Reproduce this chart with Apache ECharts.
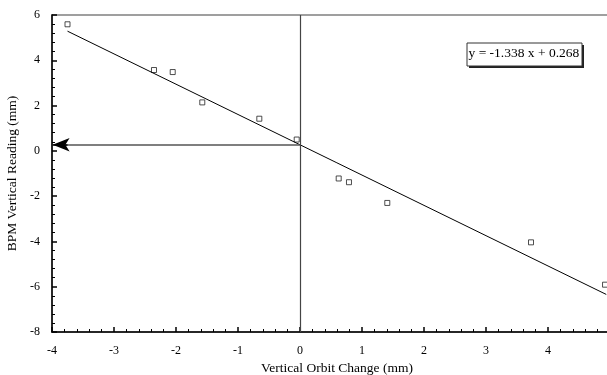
<!DOCTYPE html>
<html>
<head>
<meta charset="utf-8">
<script src="https://cdn.jsdelivr.net/npm/echarts@6/dist/echarts.min.js"></script>
<style>html,body{margin:0;padding:0;background:#fff}#c{width:607px;height:375px}</style>
</head>
<body>
<div id="c"></div>
<script>
var orbitChange = [-3.75, -2.355, -2.053, -1.576, -0.656, -0.053, 0.624, 0.79, 1.408, 3.726, 4.92];
var bpmReading  = [5.59, 3.57, 3.48, 2.14, 1.42, 0.50, -1.22, -1.385, -2.30, -4.04, -5.91];
var slope = -1.338;
var intercept = 0.268;
var fitRange = [-3.75, 4.94];
var equationText = 'y = -1.338 x + 0.268';
var xName = 'Vertical Orbit Change (mm)';
var yName = 'BPM Vertical Reading (mm)';

var points = orbitChange.map(function (x, i) { return [x, bpmReading[i]]; });
var fitLine = fitRange.map(function (x) { return [x, slope * x + intercept]; });
var font = '"Liberation Serif", "Times New Roman", serif';

var chart = echarts.init(document.getElementById('c'));
chart.setOption({
  animation: false,
  backgroundColor: '#fff',
  grid: { left: 52, right: -3, top: 15, bottom: 43, show: true, borderColor: '#808080', borderWidth: 1.5, outerBoundsMode: 'none', containLabel: false },
  xAxis: {
    type: 'value', min: -4, max: 5, interval: 1,
    name: xName, nameLocation: 'middle', nameGap: 29,
    nameTextStyle: { fontFamily: font, fontSize: 13.5, color: '#000', padding: [0, 0, 0, 12] },
    axisLine: { onZero: false, lineStyle: { color: '#000', width: 1.5 } },
    axisTick: { inside: true, length: 5, lineStyle: { color: '#000', width: 1.5 } },
    minorTick: { show: true, splitNumber: 5, length: 3, lineStyle: { color: '#000', width: 1 } },
    axisLabel: { fontFamily: font, fontSize: 12, color: '#000', margin: 13 },
    splitLine: { show: false }
  },
  yAxis: {
    type: 'value', min: -8, max: 6, interval: 2,
    name: yName, nameLocation: 'middle', nameGap: 31,
    nameTextStyle: { fontFamily: font, fontSize: 13.5, color: '#000' },
    axisLine: { onZero: false, lineStyle: { color: '#000', width: 1.5 } },
    axisTick: { inside: true, length: 5, lineStyle: { color: '#000', width: 1.5 } },
    minorTick: { show: true, splitNumber: 5, length: 3, lineStyle: { color: '#000', width: 1 } },
    axisLabel: { fontFamily: font, fontSize: 12, color: '#000', margin: 12 },
    splitLine: { show: false }
  },
  series: [
    {
      type: 'line', data: fitLine, symbol: 'none', silent: true,
      lineStyle: { color: '#000', width: 1 },
      markLine: {
        silent: true, animation: false,
        label: { show: false },
        symbol: ['none', 'none'],
        lineStyle: { color: '#444', width: 1.2, type: 'solid' },
        data: [
          [{ coord: [0, 6] }, { coord: [0, -8] }]
        ]
      }
    },
    {
      type: 'line', data: [], silent: true,
      markLine: {
        silent: true, animation: false,
        label: { show: false },
        symbol: ['none', 'none'],
        lineStyle: { color: '#555', width: 1.5, type: 'solid' },
        data: [
          [{ coord: [0, intercept] }, { coord: [-3.8, intercept] }]
        ]
      }
    },
    {
      type: 'line', data: [], silent: true,
      markLine: {
        silent: true, animation: false,
        label: { show: false },
        symbol: ['none', 'arrow'],
        symbolSize: [10, 17],
        lineStyle: { color: '#000', width: 1.5, type: 'solid' },
        data: [
          [{ coord: [-3.75, intercept] }, { coord: [-3.99, intercept] }]
        ]
      }
    },
    {
      type: 'scatter', data: points, symbol: 'rect', symbolSize: 5,
      itemStyle: { color: '#fff', borderColor: '#222', borderWidth: 1 }
    }
  ],
  graphic: [
    {
      type: 'rect', shape: { x: 469, y: 45, width: 115, height: 23 },
      style: { fill: '#222' }
    },
    {
      type: 'rect', shape: { x: 467, y: 43, width: 115, height: 23 },
      style: { fill: '#fff', stroke: '#333', lineWidth: 1 }
    },
    {
      type: 'text', left: 468.5, top: 46.5,
      style: { text: equationText, font: '13.5px ' + font, fill: '#000' }
    }
  ]
});
</script>
</body>
</html>
